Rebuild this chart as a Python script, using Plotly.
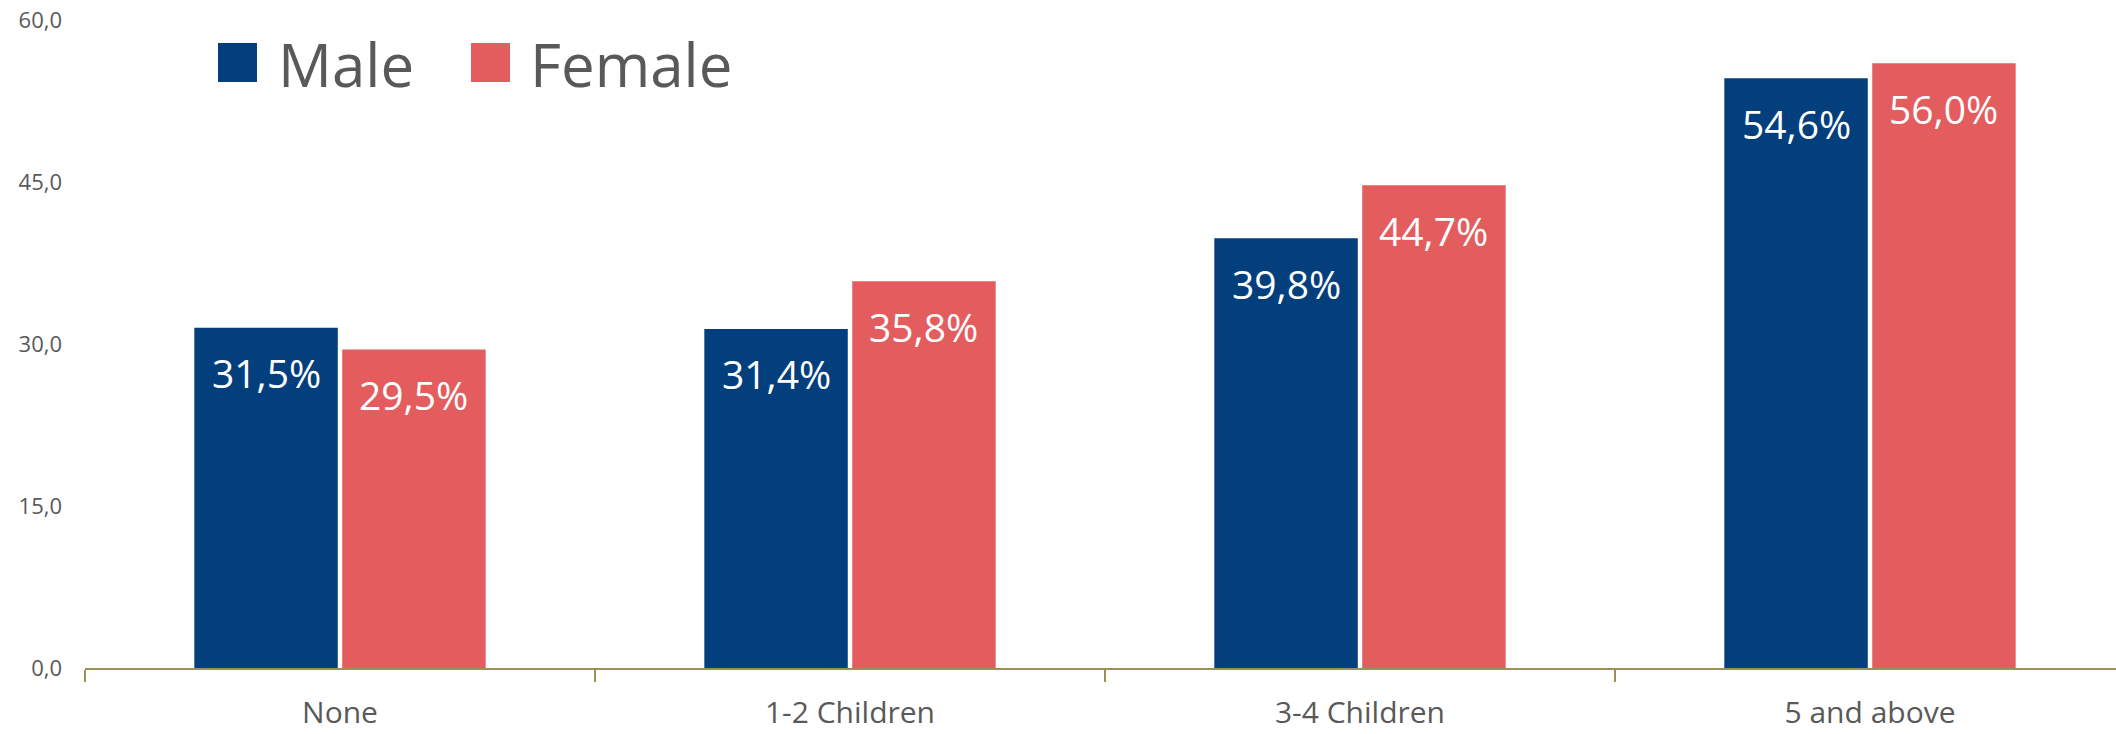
import plotly.graph_objects as go

# ---- data ----
categories = ["None", "1-2 Children", "3-4 Children", "5 and above"]
male = [31.5, 31.4, 39.8, 54.6]
female = [29.5, 35.8, 44.7, 56.0]
series_names = ["Male", "Female"]
y_ticks = [0, 15, 30, 45, 60]

# ---- style ----
BLUE = "#023F7C"
RED = "#E35D5E"
GREY = "#595959"
AXIS = "#9B9157"
FONT = "Open Sans"

W, H = 2116, 734
ML, MR, MT, MB = 85, 0, 20, 66
PW, PH = W - ML - MR, H - MT - MB
BARGAP = 0.42
GROUPGAP = 0.03
CAT_PX = 510.0
X_RANGE = [-0.5, -0.5 + PW / CAT_PX]

def fmt(v):
    return f"{v:.1f}".replace(".", ",") + "%"

fig = go.Figure()
fig.add_trace(go.Bar(x=categories, y=male, name=series_names[0],
                     marker=dict(color=BLUE, line=dict(width=0))))
fig.add_trace(go.Bar(x=categories, y=female, name=series_names[1],
                     marker=dict(color=RED, line=dict(width=0))))

# data labels inside bars, near top
slot = CAT_PX * (1 - BARGAP) / 2
annotations = []
for vals, sign in ((male, -1), (female, 1)):
    for c, v in zip(categories, vals):
        annotations.append(dict(
            x=c, y=v, xref="x", yref="y", text=fmt(v), showarrow=False,
            xshift=sign * slot / 2, yshift=-45, yanchor="middle",
            font=dict(family=FONT, size=39, color="white")))

# custom legend
def px2x(px):
    return (px - ML) / PW

def px2y(py):
    return (H - MB - py) / PH

shapes = []
legend_items = [(series_names[0], BLUE, 218, 276), (series_names[1], RED, 471, 528)]
for name, col, sx, tx in legend_items:
    shapes.append(dict(type="rect", xref="paper", yref="paper",
                       x0=px2x(sx), x1=px2x(sx + 39), y0=px2y(82), y1=px2y(43),
                       fillcolor=col, line=dict(width=0), layer="above"))
    annotations.append(dict(x=px2x(tx), y=px2y(64), xref="paper", yref="paper",
                            text=name, showarrow=False, xanchor="left", yanchor="middle",
                            font=dict(family=FONT, size=60, color=GREY)))

fig.update_layout(
    width=W, height=H,
    margin=dict(l=ML, r=MR, t=MT, b=MB, pad=0),
    paper_bgcolor="white", plot_bgcolor="white",
    barmode="group", bargap=BARGAP, bargroupgap=GROUPGAP,
    showlegend=False,
    separators=",.",
    font=dict(family=FONT, color=GREY),
    annotations=annotations, shapes=shapes,
    xaxis=dict(range=X_RANGE, showline=True, linecolor=AXIS, linewidth=2,
               ticks="outside", tickson="boundaries", ticklen=12, tickwidth=2,
               tickcolor=AXIS, showgrid=False, zeroline=False, automargin=False,
               tickfont=dict(family=FONT, size=30, color=GREY),
               ticklabelstandoff=17),
    yaxis=dict(range=[0, 60], tickvals=y_ticks, tickformat=".1f",
               showgrid=False, zeroline=False, showline=False, ticks="",
               automargin=False,
               tickfont=dict(family=FONT, size=22, color=GREY),
               ticklabelstandoff=22),
)

fig.write_html("out.html")
